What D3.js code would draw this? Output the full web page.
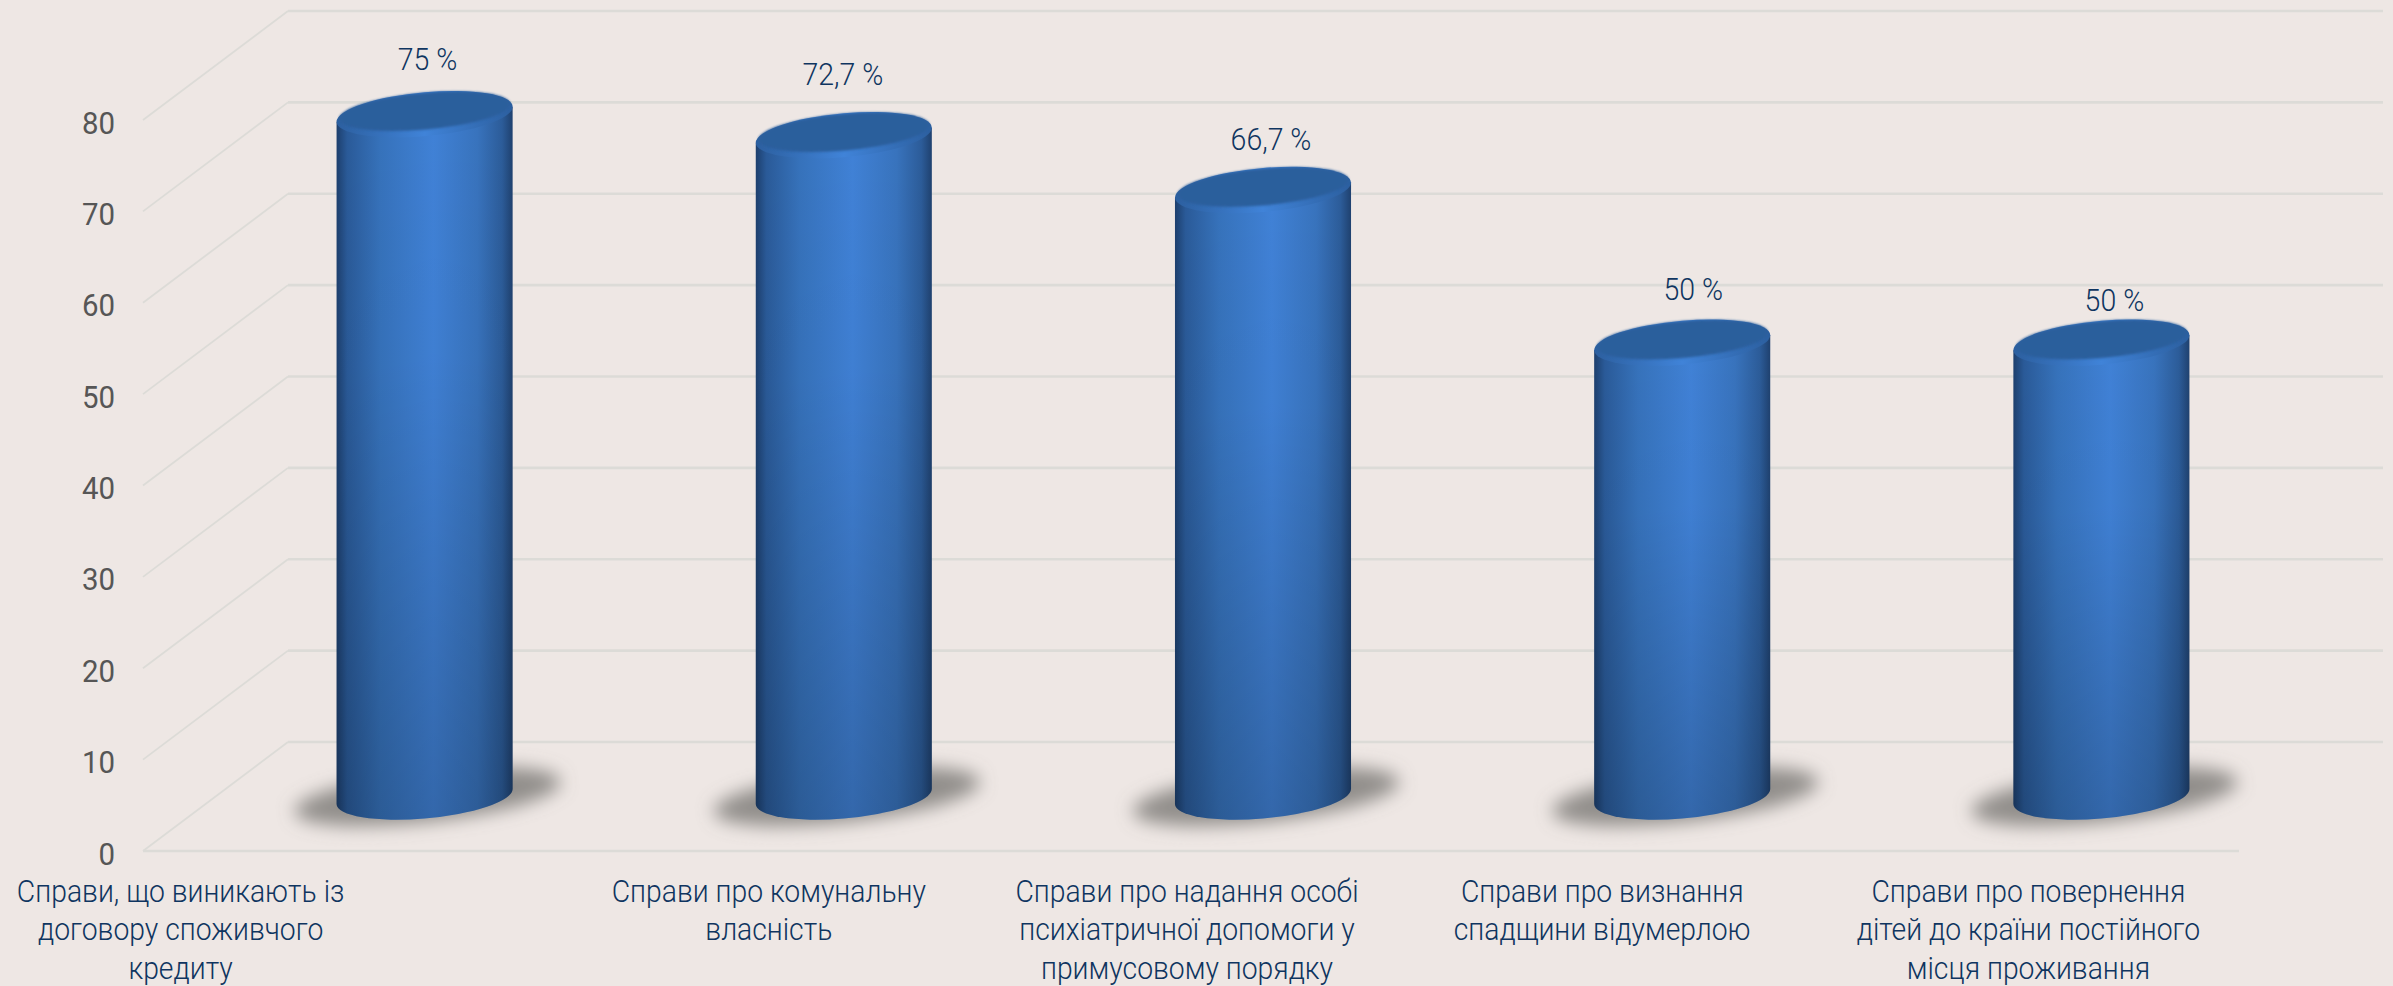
<!DOCTYPE html>
<html lang="uk"><head><meta charset="utf-8">
<script src="https://cdnjs.cloudflare.com/ajax/libs/d3/7.9.0/d3.min.js"></script>
<style>html,body{margin:0;padding:0;background:#eee7e4;overflow:hidden}svg{display:block}</style>
</head><body><svg id="c" width="2393" height="986"></svg>
<script>
const categories = [
  ["Справи, що виникають із","договору споживчого","кредиту"],
  ["Справи про комунальну","власність"],
  ["Справи про надання особі","психіатричної допомоги у","примусовому порядку"],
  ["Справи про визнання","спадщини відумерлою"],
  ["Справи про повернення","дітей до країни постійного","місця проживання"]
];
const values = [75, 72.7, 66.7, 50, 50];
const valueLabels = ["75 %","72,7 %","66,7 %","50 %","50 %"];
const axisTicks = [0,10,20,30,40,50,60,70,80];

// layout
const frontX = [143,2239], depth = {dx:145, dy:-109}, backRight = 2383;
const y = d3.scaleLinear().domain([0,80]).range([851,120]);
const band = d3.scaleBand().domain(d3.range(5)).range([frontX[0]+depth.dx/2-0.5, frontX[1]+depth.dx/2-0.5]).paddingInner(0.58).paddingOuter(0.29);
const frontBand = d3.scaleBand().domain(d3.range(5)).range(frontX);
const labelNudge = [[3,-52],[-1,-58],[8,-48],[11,-51],[13,-40]];
const catNudge = [-172,-3,-4,-8,-1];
const topShift = 3;
const midY = v => y(v)+depth.dy/2;
const svg = d3.select("#c");
const defs = svg.append("defs");
const C = "Roboto, 'Noto Sans', sans-serif";

const side = defs.append("linearGradient").attr("id","side");
[[0,"#1d3f6d"],[.06,"#2a5a98"],[.25,"#3672bb"],[.55,"#4081d6"],[.8,"#3873bd"],[.94,"#2c5c99"],[1,"#1f416f"]]
  .forEach(s=>side.append("stop").attr("offset",s[0]).attr("stop-color",s[1]));
const fade = defs.append("linearGradient").attr("id","fade").attr("x1",0).attr("x2",0).attr("y1",0).attr("y2",1);
fade.append("stop").attr("offset",0).attr("stop-color","#000").attr("stop-opacity",0);
fade.append("stop").attr("offset",.35).attr("stop-color","#000").attr("stop-opacity",.02);
fade.append("stop").attr("offset",1).attr("stop-color","#000").attr("stop-opacity",.2);
const rim = defs.append("linearGradient").attr("id","rim");
[[0,"#2c5f9f"],[.5,"#4083d8"],[1,"#2c5f9f"]].forEach(s=>rim.append("stop").attr("offset",s[0]).attr("stop-color",s[1]));
defs.append("filter").attr("id","blur").attr("x","-30%").attr("y","-80%").attr("width","160%").attr("height","260%")
  .append("feGaussianBlur").attr("stdDeviation",9);
defs.append("filter").attr("id","soft").attr("x","-10%").attr("y","-20%").attr("width","120%").attr("height","140%")
  .append("feGaussianBlur").attr("stdDeviation",1.2);

// gridlines
const grid = svg.append("g").attr("fill","none").attr("stroke","#dcdbd7");
grid.selectAll(".back").data(axisTicks).join("line").attr("class","back")
  .attr("x1",frontX[0]+depth.dx).attr("x2",backRight)
  .attr("y1",d=>y(d)+depth.dy).attr("y2",d=>y(d)+depth.dy).attr("stroke-width",2.6);
grid.selectAll(".diag").data(axisTicks).join("line").attr("class","diag")
  .attr("x1",frontX[0]).attr("x2",frontX[0]+depth.dx)
  .attr("y1",d=>y(d)).attr("y2",d=>y(d)+depth.dy).attr("stroke-width",1.8);
grid.append("line").attr("x1",frontX[0]).attr("x2",frontX[1]).attr("y1",y(0)).attr("y2",y(0)).attr("stroke-width",2.6);

// axis
const axis = svg.append("g").attr("transform",`translate(${frontX[0]-28},0)`)
  .call(d3.axisLeft(y).tickValues(axisTicks).tickSize(0).tickPadding(0));
axis.select(".domain").remove();
axis.selectAll("text").attr("x",0).attr("dy",null).attr("y",0).attr("text-anchor","end")
  .attr("fill","#565656").attr("font-family",C).attr("font-weight",400).attr("font-size",32)
  .attr("transform","translate(0,13) scale(.92,1)");

// cylinders
const a = band.bandwidth()/2, tilt = Math.atan(7.5/a)*180/Math.PI, b = 22;
const bars = svg.append("g").selectAll("g").data(values).join("g");
bars.each(function(v,i){
  const g = d3.select(this), cx = band(i)+a;
  g.append("ellipse").attr("cx",cx+3).attr("cy",midY(0)).attr("rx",a*1.52).attr("ry",b*1.15)
    .attr("transform",`rotate(-6.5 ${cx+3} ${midY(0)})`)
    .attr("fill","#72706e").attr("fill-opacity",.75).attr("filter","url(#blur)");
  const s = g.append("g").attr("transform",`translate(${cx},${midY(v)+topShift}) skewY(${-tilt})`);
  const h = midY(0)-midY(v)-topShift;
  const body = `M${-a},0L${-a},${h}A${a},${b} 0 0 0 ${a},${h}L${a},0Z`;
  s.append("path").attr("d",body).attr("fill","url(#side)");
  s.append("path").attr("d",body).attr("fill","url(#fade)");
  s.append("ellipse").attr("rx",a).attr("ry",b).attr("fill","url(#rim)");
  s.append("ellipse").attr("rx",a-2.5).attr("ry",b-3.5).attr("cy",-3).attr("fill","#2c5e9c").attr("filter","url(#soft)");
});

// value labels
svg.append("g").selectAll("text").data(valueLabels).join("text")
  .attr("transform",(d,i)=>`translate(${band(i)+a+labelNudge[i][0]},${midY(values[i])+labelNudge[i][1]+11}) scale(.89,1)`)
  .attr("text-anchor","middle").attr("font-family",C).attr("font-weight",300).attr("font-size",32)
  .attr("fill","#0f3560").text(d=>d);

// category labels
const cats = svg.append("g").selectAll("g").data(categories).join("g")
  .attr("transform",(d,i)=>`translate(${frontBand(i)+frontBand.bandwidth()/2+catNudge[i]},0)`);
cats.selectAll("text").data(d=>d).join("text")
  .attr("transform",(d,j)=>`translate(0,${902+38.3*j}) scale(.885,1)`)
  .attr("text-anchor","middle").attr("font-family",C).attr("font-weight",300).attr("font-size",32)
  .attr("fill","#0f3560").text(d=>d);
</script></body></html>
